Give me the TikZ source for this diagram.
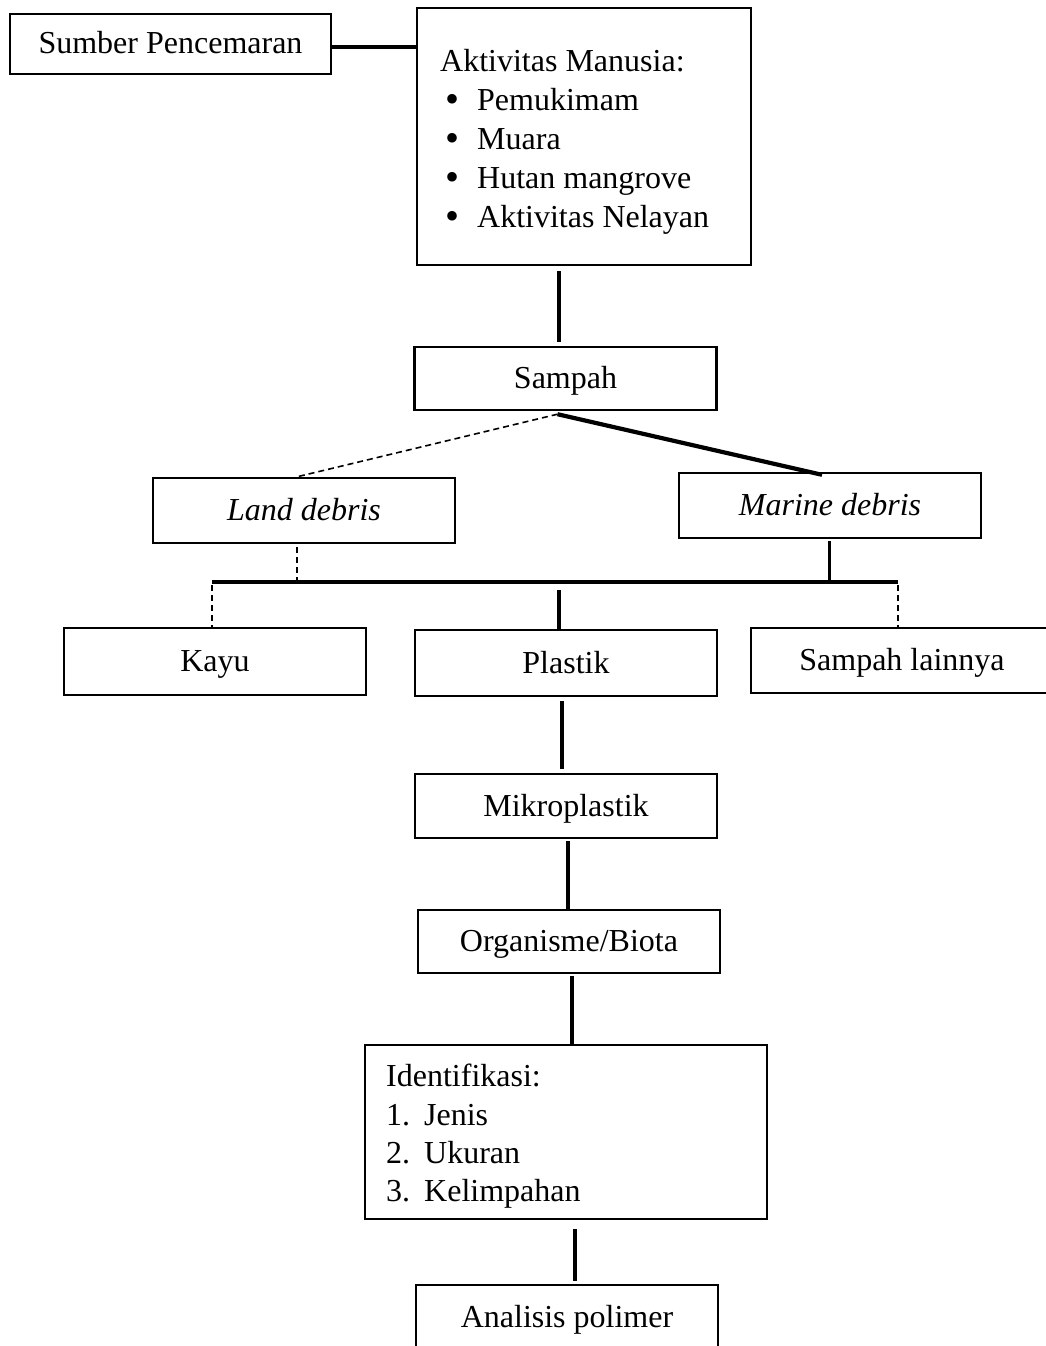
\documentclass[tikz,border=0pt]{standalone}
\usepackage{fontspec}
\setmainfont{Liberation Serif}
\usetikzlibrary{calc}
\newcommand{\bul}{\makebox[37pt][l]{\hspace{5pt}\smash{\raisebox{-2pt}{\fontsize{40}{39}\selectfont •}}}}
\begin{document}
\begin{tikzpicture}[x=1pt,y=-1pt,
  every node/.style={font=\fontsize{32}{39}\selectfont},
  box/.style={draw, line width=2.4pt, minimum width=302pt, minimum height=64pt, inner sep=0pt, text height=23pt, text depth=3pt},
  conn/.style={line width=3.5pt},
  thickconn/.style={line width=4.2pt},
  dconn/.style={line width=1.6pt, dash pattern=on 6pt off 4pt},
  txt/.style={inner sep=0pt, align=left, anchor=north west}]
\path[use as bounding box, fill=white] (0,0) rectangle (1045,1346);

% boxes
\node[box, minimum width=321pt, minimum height=60pt] (sumber) at (170.5,44) {Sumber Pencemaran};
\node[box, minimum width=334pt, minimum height=257pt] (akt) at (584,136.5) {};
\node[txt] (aktT) at (440,49) {Aktivitas Manusia:\\
  \bul Pemukimam\\
  \bul Muara\\
  \bul Hutan mangrove\\
  \bul Aktivitas Nelayan};
\node[box, minimum height=63pt] (samp) at (565.5,378.5) {Sampah};
\node[box, minimum height=65pt] (land) at (304,510.5) {\textit{Land debris}};
\node[box, minimum height=65pt] (mar) at (830,505.5) {\textit{Marine debris}};
\node[box, minimum height=67pt] (kayu) at (215,661.5) {Kayu};
\node[box, minimum height=66pt] (plast) at (566,663) {Plastik};
\node[box, minimum height=65pt] (sl) at (902,660.5) {Sampah lainnya};
\node[box] (mikro) at (566,806) {Mikroplastik};
\node[box, minimum height=63pt] (org) at (569,941.5) {Organisme/Biota};
\node[box, minimum width=402pt, minimum height=174pt] (ident) at (566,1132) {};
\node[txt, font=\fontsize{32}{38.3}\selectfont] (identT) at (386,1064) {Identifikasi:\\
  \makebox[38pt][l]{1.}Jenis\\
  \makebox[38pt][l]{2.}Ukuran\\
  \makebox[38pt][l]{3.}Kelimpahan};
\node[box] (anal) at (567,1317) {Analisis polimer};

% connectors
\draw[thickconn] ([yshift=-3pt]sumber.east) -- ([yshift=-3pt]sumber.east -| akt.west);
\coordinate (a1) at ([xshift=-25pt]akt.south);
\draw[conn, shorten <=5pt, shorten >=4pt] (a1) -- (a1 |- samp.north);
\coordinate (s1) at ([xshift=-8pt,yshift=-3pt]samp.south);
\draw[dconn] (s1) -- ([xshift=-7pt]land.north);
\draw[thickconn] (s1) -- ([xshift=-8pt,yshift=-3pt]mar.north);
\coordinate (barL) at (212,582);
\coordinate (barR) at (898,582);
\coordinate (l1) at ([xshift=-7pt]land.south);
\draw[dconn, shorten <=3pt] (l1) -- (l1 |- barL);
\coordinate (m1) at ([xshift=-1pt]mar.south);
\draw[conn, line width=3pt, shorten <=2pt] (m1) -- (m1 |- barL);
\draw[thickconn] (barL) -- (barR);
\draw[dconn, shorten <=3pt] (barL) -- (barL |- kayu.north);
\coordinate (p1) at ([xshift=-7pt]plast.north);
\draw[conn, shorten <=8pt] (p1 |- barL) -- (p1);
\draw[dconn, shorten <=3pt] (barR) -- (barR |- sl.north);
\coordinate (p2) at ([xshift=-4pt]plast.south);
\draw[conn, shorten <=4pt, shorten >=4pt] (p2) -- (p2 |- mikro.north);
\coordinate (p3) at ([xshift=2pt]mikro.south);
\draw[conn, shorten <=2pt] (p3) -- (p3 |- org.north);
\coordinate (p4) at ([xshift=3pt]org.south);
\draw[conn, shorten <=2pt] (p4) -- (p4 |- ident.north);
\coordinate (p5) at ([xshift=9pt]ident.south);
\draw[conn, shorten <=9pt, shorten >=3pt] (p5) -- (p5 |- anal.north);
\end{tikzpicture}
\end{document}
